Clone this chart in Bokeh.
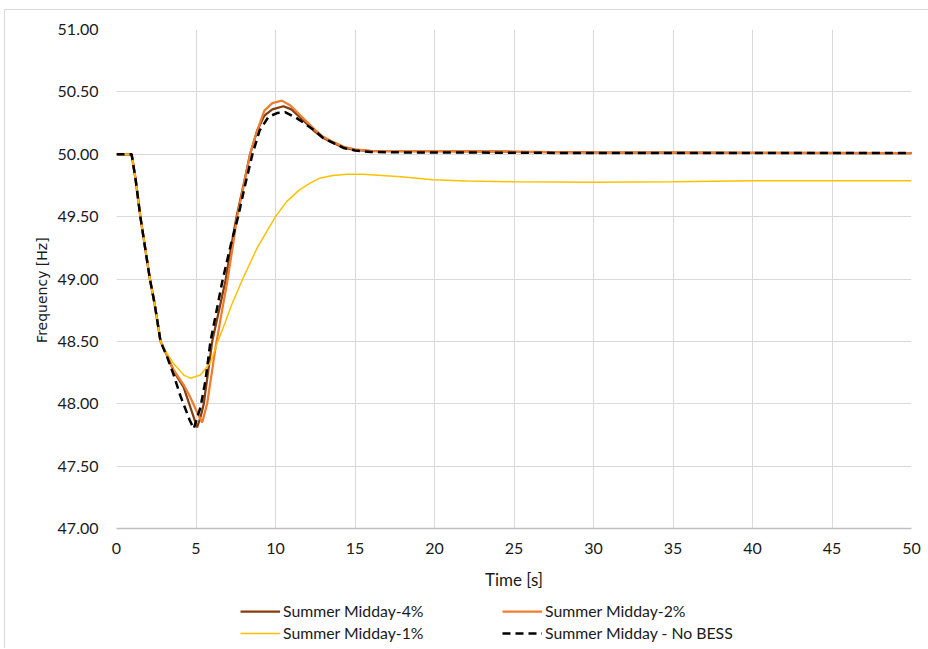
from bokeh.plotting import figure
from bokeh.layouts import column
from bokeh.models import Legend, LegendItem, NumeralTickFormatter, FixedTicker
from bokeh.embed import file_html
from bokeh.resources import INLINE

# Frequency response after the disturbance, per BESS share
t_4pct = [0, 0.95, 1.2, 1.5, 1.8, 2.1, 2.4, 2.77, 3.2, 3.6, 4.23, 4.65, 5.07, 5.3,
          5.49, 6.02, 6.45, 6.86, 7.2, 7.55, 8.0, 8.4, 8.85, 9.3, 9.8, 10.5, 11.0,
          11.6, 12.4, 13.0, 13.65, 14.3, 15.0, 16.0, 18.0, 20.0, 25.0, 30.0, 40.0, 50.0]
f_4pct = [50.0, 50.0, 49.8, 49.5, 49.25, 49.0, 48.8, 48.5, 48.38, 48.26, 48.13, 47.97,
          47.81, 47.9, 48.0, 48.5, 48.75, 48.99, 49.25, 49.5, 49.76, 50.0, 50.19, 50.31,
          50.36, 50.385, 50.36, 50.29, 50.19, 50.13, 50.09, 50.05, 50.035, 50.025,
          50.025, 50.025, 50.02, 50.015, 50.012, 50.01]

t_2pct = [0, 0.95, 1.2, 1.5, 1.8, 2.1, 2.4, 2.77, 3.2, 3.6, 4.23, 4.65, 5.07, 5.39,
          5.7, 6.23, 6.6, 6.98, 7.3, 7.59, 8.0, 8.4, 8.85, 9.3, 9.8, 10.4, 10.94,
          11.57, 12.45, 13.0, 13.65, 14.3, 15.0, 16.0, 18.0, 20.0, 25.0, 30.0, 40.0, 50.0]
f_2pct = [50.0, 50.0, 49.8, 49.5, 49.25, 49.0, 48.8, 48.5, 48.38, 48.27, 48.15, 48.05,
          47.93, 47.85, 48.0, 48.45, 48.72, 48.99, 49.25, 49.5, 49.75, 50.0, 50.19, 50.35,
          50.41, 50.43, 50.39, 50.31, 50.2, 50.14, 50.097, 50.06, 50.04, 50.028,
          50.025, 50.025, 50.02, 50.015, 50.012, 50.01]

t_1pct = [0, 0.95, 1.2, 1.5, 1.8, 2.1, 2.4, 2.77, 3.2, 3.6, 4.23, 4.65, 5.28, 5.91,
          6.37, 6.8, 7.17, 7.9, 8.85, 10.0, 10.7, 11.47, 12.2, 12.83, 13.6, 14.5,
          15.5, 17.9, 19.9, 22.0, 25.0, 30.0, 35.0, 40.0, 45.0, 50.0]
f_1pct = [50.0, 50.0, 49.8, 49.5, 49.25, 49.0, 48.8, 48.5, 48.4, 48.32, 48.23, 48.205,
          48.23, 48.33, 48.5, 48.64, 48.77, 48.99, 49.25, 49.5, 49.62, 49.71, 49.77,
          49.81, 49.83, 49.84, 49.84, 49.82, 49.795, 49.785, 49.78, 49.776, 49.78,
          49.787, 49.787, 49.787]

t_nobess = [0, 0.95, 1.2, 1.5, 1.8, 2.1, 2.4, 2.77, 3.2, 3.6, 4.0, 4.3, 4.6, 4.86,
            5.1, 5.28, 5.6, 5.91, 6.3, 6.67, 7.2, 7.65, 8.1, 8.55, 9.0, 9.56, 10.1,
            10.6, 11.2, 11.8, 12.45, 13.0, 13.65, 14.3, 15.0, 16.0, 18.0, 20.0, 25.0,
            30.0, 40.0, 50.0]
f_nobess = [50.0, 50.0, 49.8, 49.5, 49.25, 49.0, 48.8, 48.5, 48.37, 48.23, 48.07,
            47.97, 47.87, 47.80, 47.9, 47.97, 48.19, 48.5, 48.75, 48.99, 49.28, 49.5,
            49.76, 50.0, 50.19, 50.30, 50.33, 50.337, 50.3, 50.25, 50.19, 50.13, 50.09,
            50.05, 50.03, 50.018, 50.015, 50.015, 50.012, 50.01, 50.01, 50.01]

x_ticks = [0, 5, 10, 15, 20, 25, 30, 35, 40, 45, 50]
y_ticks = [47.0, 47.5, 48.0, 48.5, 49.0, 49.5, 50.0, 50.5, 51.0]

series_labels = ["Summer Midday-4%", "Summer Midday-2%",
                 "Summer Midday-1%", "Summer Midday - No BESS"]

series_styles = [dict(line_color="#843C0C", line_width=2.25),
                 dict(line_color="#ED7D31", line_width=2.25),
                 dict(line_color="#FFC000", line_width=1.5),
                 dict(line_color="black", line_width=2.5, line_dash="8 5")]

series = [(t_4pct, f_4pct), (t_2pct, f_2pct), (t_1pct, f_1pct), (t_nobess, f_nobess)]

TICK_FONT = "Lato"
TEXT_COLOR = "#1a1a1a"
BOX_BORDER = "1px solid #d9d9d9"

# ---- main chart: the chart box sits 4px in from the left, 9px down ----
p = figure(width=924, height=583, x_range=(0, 50), y_range=(47, 51),
           output_backend="svg", toolbar_location=None,
           margin=(9, 0, 0, 4),
           styles={"border-left": BOX_BORDER, "border-top": BOX_BORDER},
           min_border_left=111, min_border_right=18,
           min_border_top=19, min_border_bottom=65)

p.background_fill_color = "white"
p.border_fill_color = "white"
p.outline_line_color = None

p.xaxis.ticker = FixedTicker(ticks=x_ticks)
p.yaxis.ticker = FixedTicker(ticks=y_ticks)
p.yaxis.formatter = NumeralTickFormatter(format="0.00")
for ax in (p.xaxis[0], p.yaxis[0]):
    ax.major_tick_line_color = None
    ax.minor_tick_line_color = None
    ax.major_label_text_font = TICK_FONT
    ax.major_label_text_font_size = "16px"
    ax.major_label_text_color = TEXT_COLOR
p.yaxis.axis_line_color = None
p.xaxis.axis_line_color = "#bfbfbf"
p.xaxis.axis_line_width = 1.5
p.yaxis.major_label_standoff = 12
p.xaxis.major_label_standoff = 8

p.xaxis.axis_label = "Time [s]"
p.xaxis.axis_label_text_font = TICK_FONT
p.xaxis.axis_label_text_font_size = "17px"
p.xaxis.axis_label_text_font_style = "normal"
p.xaxis.axis_label_text_color = TEXT_COLOR
p.xaxis.axis_label_standoff = 12

# trailing no-break spaces nudge the rotated title a little below centre
p.yaxis.axis_label = "Frequency  [Hz]" + "\u00a0" * 4
p.yaxis.axis_label_text_font = "DejaVu Sans"
p.yaxis.axis_label_text_font_size = "14px"
p.yaxis.axis_label_text_font_style = "normal"
p.yaxis.axis_label_text_color = TEXT_COLOR
p.yaxis.axis_label_standoff = 5

p.xgrid.grid_line_color = "#d9d9d9"
p.ygrid.grid_line_color = "#d9d9d9"
p.xgrid.grid_line_width = 1
p.ygrid.grid_line_width = 1

for (ts, fs), style in zip(series, series_styles):
    p.line(ts, fs, **style)

# ---- legend strip underneath the chart (its frame lines up with the chart's) ----
leg = figure(width=924, height=56, x_range=(0, 50), y_range=(0, 1),
             output_backend="svg", toolbar_location=None,
             margin=(0, 0, 0, 4), styles={"border-left": BOX_BORDER},
             x_axis_type=None, y_axis_type=None, min_border=0)
leg.outline_line_color = None
leg.xgrid.visible = False
leg.ygrid.visible = False
leg.background_fill_color = "white"
leg.border_fill_color = "white"

# key renderers: same series, but the strip's y-range keeps them out of view
key_renderers = [leg.line(ts, fs, **style) for (ts, fs), style in zip(series, series_styles)]


def add_legend(idx, x_off):
    lg = Legend(items=[LegendItem(label=series_labels[i], renderers=[key_renderers[i]])
                       for i in idx],
                location=(x_off, 6), orientation="vertical",
                padding=0, margin=0, spacing=3, glyph_width=40, glyph_height=18,
                label_height=18, label_standoff=3,
                label_text_font=TICK_FONT, label_text_font_size="15.8px",
                label_text_color=TEXT_COLOR,
                border_line_color=None, background_fill_alpha=0)
    leg.add_layout(lg, "center")


add_legend([0, 2], 124)
add_legend([1, 3], 386)

open("out.html", "w").write(file_html(column(p, leg, spacing=0), INLINE))
